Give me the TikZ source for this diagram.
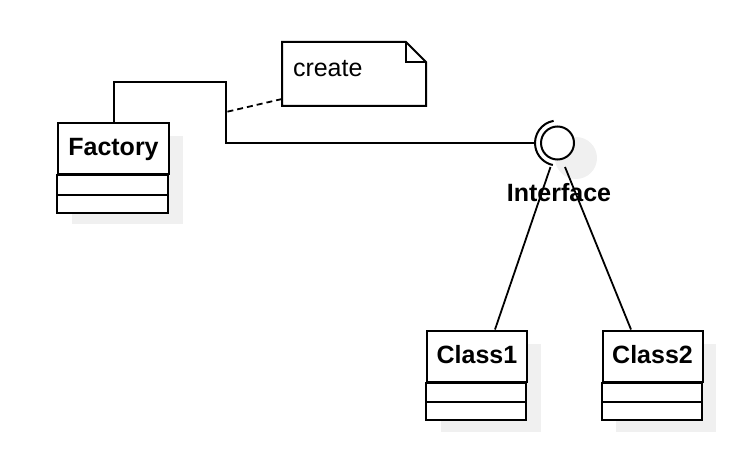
\documentclass[tikz,border=0pt]{standalone}
\usepackage{fontspec}
\setmainfont{Liberation Sans}
\definecolor{shadowc}{HTML}{F0F0F0}
\begin{document}
\begin{tikzpicture}[x=1pt,y=-1pt,line width=2pt,
  font=\fontsize{25}{30}\selectfont,
  classhead/.style={draw,fill=white,anchor=north west,minimum width=#1,minimum height=51pt,
    inner sep=0pt,text height=18pt,text depth=3pt,font=\fontsize{25}{30}\selectfont\bfseries},
  classbody/.style={draw,fill=white},
  shadowbox/.style={fill=shadowc,draw=none},
  conn/.style={line width=2pt},
  slim/.style={line width=1.8pt},
  notedash/.style={line width=1.8pt,dash pattern=on 6pt off 4pt}]
\useasboundingbox (0,0) rectangle (744,476);
% shadows
\fill[shadowbox] (71.5,136) rectangle ++(111,88);
\fill[shadowbox] (440.5,343.5) rectangle ++(100,88);
\fill[shadowbox] (616,343.5) rectangle ++(100,88);
\fill[shadowbox] (576,158) circle[radius=21];
% classes
\node[classhead=111pt] (factory) at (57,122) {Factory};
\draw[classbody] (factory.south west) rectangle ++(111,37.5);
\draw (factory.south west) ++(0,19.6) -- ++(111,0);
\node[classhead=100pt] (class1) at (426,329.5) {Class1};
\draw[classbody] (class1.south west) rectangle ++(100,37.5);
\draw (class1.south west) ++(0,19.6) -- ++(100,0);
\node[classhead=100pt] (class2) at (601.5,329.5) {Class2};
\draw[classbody] (class2.south west) rectangle ++(100,37.5);
\draw (class2.south west) ++(0,19.6) -- ++(100,0);
% interface
\node[circle,draw,fill=white,minimum size=33pt,inner sep=0pt] (iface) at (557.5,143) {};
\draw (557.5,143) ++(-100:22.5) arc[start angle=-100,end angle=-258,radius=22.5];
\coordinate (sock) at (535,143);
\coordinate (bend) at (226,82);
\coordinate (s1) at (550.5,167);
\coordinate (s2) at (565,167);
\draw[conn] (factory.north) |- (bend) |- (sock);
\draw[slim] (s1) -- ([xshift=18pt]class1.north);
\draw[slim] (s2) -- ([xshift=-21.5pt]class2.north);
\node[anchor=base,font=\fontsize{25}{30}\selectfont\bfseries] (ilabel) at (559,201.5) {Interface};
% note
\node[anchor=north west,minimum width=142pt,minimum height=62pt,inner xsep=10pt,inner ysep=0pt,
  text width=122pt,align=left,text height=18pt,text depth=12.6pt] (note) at (282,42) {create};
\draw (note.south west) -- (note.north west) -- ([xshift=-20pt]note.north east)
  -- ([yshift=-20pt]note.north east) -- (note.south east) -- cycle;
\draw ([xshift=-20pt]note.north east) -- ([xshift=-20pt,yshift=-20pt]note.north east)
  -- ([yshift=-20pt]note.north east);
\coordinate (nd) at (226,112);
\draw[notedash] ([yshift=7pt]note.south west) -- (nd);
\end{tikzpicture}
\end{document}
